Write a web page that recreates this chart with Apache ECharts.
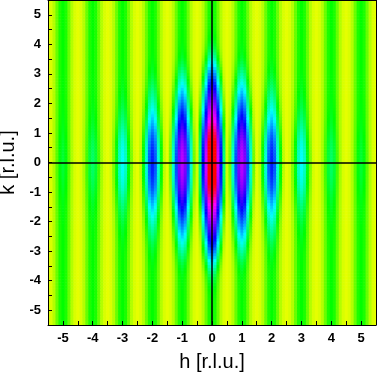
<!DOCTYPE html>
<html>
<head>
<meta charset="utf-8">
<script src="https://cdn.jsdelivr.net/npm/echarts@6/dist/echarts.min.js"></script>
<style>
html,body{margin:0;padding:0;background:#ffffff;}
#chart{width:377px;height:374px;}
</style>
</head>
<body>
<div id="chart"></div>
<script>
// ---- grid of cell centres (h and k, step 0.1 r.l.u.) ----
const hValues = Array.from({length: 111}, (_, i) => +(-5.5 + i * 0.1).toFixed(1));
const kValues = Array.from({length: 111}, (_, i) => +(-5.5 + i * 0.1).toFixed(1));

// background intensity along h, far from k = 0 (one period per r.l.u.)
const hBase = [
  1.2e-4,1.32e-4,1.74e-4,3.0e-4,5.2e-4,6.3e-4,5.2e-4,3.0e-4,1.74e-4,1.32e-4,
  1.2e-4,1.32e-4,1.74e-4,3.0e-4,5.2e-4,6.3e-4,5.2e-4,3.0e-4,1.74e-4,1.32e-4,
  1.2e-4,1.32e-4,1.74e-4,3.0e-4,5.2e-4,6.3e-4,5.2e-4,3.0e-4,1.74e-4,1.32e-4,
  1.2e-4,1.32e-4,1.74e-4,3.0e-4,5.2e-4,6.3e-4,5.2e-4,3.0e-4,1.74e-4,1.32e-4,
  1.2e-4,1.32e-4,1.74e-4,3.0e-4,5.2e-4,6.3e-4,5.2e-4,3.0e-4,1.74e-4,1.32e-4,
  1.2e-4,1.32e-4,1.74e-4,3.0e-4,5.2e-4,6.3e-4,5.2e-4,3.0e-4,1.74e-4,1.32e-4,
  1.2e-4,1.32e-4,1.74e-4,3.0e-4,5.2e-4,6.3e-4,5.2e-4,3.0e-4,1.74e-4,1.32e-4,
  1.2e-4,1.32e-4,1.74e-4,3.0e-4,5.2e-4,6.3e-4,5.2e-4,3.0e-4,1.74e-4,1.32e-4,
  1.2e-4,1.32e-4,1.74e-4,3.0e-4,5.2e-4,6.3e-4,5.2e-4,3.0e-4,1.74e-4,1.32e-4,
  1.2e-4,1.32e-4,1.74e-4,3.0e-4,5.2e-4,6.3e-4,5.2e-4,3.0e-4,1.74e-4,1.32e-4,
  1.2e-4,1.32e-4,1.74e-4,3.0e-4,5.2e-4,6.3e-4,5.2e-4,3.0e-4,1.74e-4,1.32e-4,
  1.2e-4
];

// peak intensity on the k = 0 line along h (peaks at integer h)
const hPeak = [
  0,3.9e-7,7e-6,3.7e-5,1.77e-4,2.8e-4,1.77e-4,3.7e-5,7e-6,3.9e-7,
  0,9.7e-7,1.7e-5,9.1e-5,4.35e-4,6.9e-4,4.35e-4,9.1e-5,1.7e-5,9.7e-7,
  0,4.7e-6,8.4e-5,4.4e-4,2.11e-3,3.35e-3,2.11e-3,4.4e-4,8.4e-5,4.7e-6,
  5e-7,2.9e-5,5.1e-4,2.68e-3,1.28e-2,2.03e-2,1.28e-2,2.68e-3,5.1e-4,2.9e-5,
  2.7e-6,1.54e-4,2.73e-3,1.44e-2,6.88e-2,0.109,6.88e-2,1.44e-2,2.73e-3,1.54e-4,
  2.5e-5,1.41e-3,2.5e-2,0.132,0.631,1.0,0.631,0.132,2.5e-2,1.41e-3,
  2.5e-5,1.54e-4,2.73e-3,1.44e-2,6.88e-2,0.109,6.88e-2,1.44e-2,2.73e-3,1.54e-4,
  2.7e-6,2.9e-5,5.1e-4,2.68e-3,1.28e-2,2.03e-2,1.28e-2,2.68e-3,5.1e-4,2.9e-5,
  5e-7,4.7e-6,8.4e-5,4.4e-4,2.11e-3,3.35e-3,2.11e-3,4.4e-4,8.4e-5,4.7e-6,
  0,9.7e-7,1.7e-5,9.1e-5,4.35e-4,6.9e-4,4.35e-4,9.1e-5,1.7e-5,9.7e-7,
  0,3.9e-7,7e-6,3.7e-5,1.77e-4,2.8e-4,1.77e-4,3.7e-5,7e-6,3.9e-7,
  0
];

// relative peak intensity along k (k = -5.5 ... 5.5)
const kProfile = [
  1.82e-6,2.63e-6,3.80e-6,5.50e-6,7.94e-6,1.15e-5,1.66e-5,2.40e-5,3.47e-5,5.01e-5,
  7.24e-5,1.05e-4,1.51e-4,2.19e-4,3.16e-4,4.57e-4,6.61e-4,9.55e-4,1.38e-3,2.00e-3,
  2.82e-3,3.98e-3,5.50e-3,7.59e-3,1.00e-2,1.32e-2,1.70e-2,2.19e-2,2.75e-2,3.47e-2,
  4.27e-2,5.25e-2,6.31e-2,7.59e-2,9.12e-2,0.110,0.130,0.155,0.182,0.214,
  0.251,0.295,0.343,0.398,0.462,0.531,0.603,0.668,0.733,0.794,
  0.851,0.904,0.944,0.975,0.993,
  1.0,
  0.993,0.975,0.944,0.904,0.851,
  0.794,0.733,0.668,0.603,0.531,0.462,0.398,0.343,0.295,0.251,
  0.214,0.182,0.155,0.130,0.110,9.12e-2,7.59e-2,6.31e-2,5.25e-2,4.27e-2,
  3.47e-2,2.75e-2,2.19e-2,1.70e-2,1.32e-2,1.00e-2,7.59e-3,5.50e-3,3.98e-3,2.82e-3,
  2.00e-3,1.38e-3,9.55e-4,6.61e-4,4.57e-4,3.16e-4,2.19e-4,1.51e-4,1.05e-4,7.24e-5,
  5.01e-5,3.47e-5,2.40e-5,1.66e-5,1.15e-5,7.94e-6,5.50e-6,3.80e-6,2.63e-6,1.82e-6
];

const hTicks = [-5,-4,-3,-2,-1,0,1,2,3,4,5];
const kTicks = [-5,-4,-3,-2,-1,0,1,2,3,4,5];

// ---- build the heatmap table (colour on a log10 intensity scale) ----
const table = [];
for (let j = 0; j < kValues.length; j++) {
  for (let i = 0; i < hValues.length; i++) {
    const intensity = hBase[i] + hPeak[i] * kProfile[j];
    table.push([hValues[i], kValues[j], Math.log10(intensity)]);
  }
}
const halfH = (hValues[1] - hValues[0]) / 2;
const halfK = (kValues[1] - kValues[0]) / 2;

// colour ramp: yellow -> green -> cyan -> blue -> magenta -> red
const rampAnchors = [
  [0.00, [255, 255, 0]],
  [0.20, [0, 255, 0]],
  [0.40, [0, 255, 255]],
  [0.60, [0, 0, 255]],
  [0.82, [255, 0, 255]],
  [0.92, [255, 0, 0]],
  [1.00, [255, 0, 0]]
];
function buildRamp(anchors, n) {
  const out = [];
  for (let s = 0; s < n; s++) {
    const t = s / (n - 1);
    let a = 0;
    while (a < anchors.length - 2 && t > anchors[a + 1][0]) a++;
    const [t0, c0] = anchors[a], [t1, c1] = anchors[a + 1];
    const f = Math.max(0, Math.min(1, (t - t0) / (t1 - t0)));
    const c = c0.map((v, q) => Math.round(v + (c1[q] - v) * f));
    out.push('rgb(' + c.join(',') + ')');
  }
  return out;
}

const FONT = 'Liberation Sans, Arial, Helvetica, sans-serif';
const chart = echarts.init(document.getElementById('chart'), null, {renderer: 'canvas'});

function isTick(list, v) {
  return list.some(t => Math.abs(t - v) < 1e-6);
}

const baseAxis = {
  type: 'value', min: -5.5, max: 5.5, interval: 0.5, z: 10,
  splitLine: {show: false},
  axisLine: {show: true, onZero: false, lineStyle: {color: '#000', width: 1}}
};

chart.setOption({
  animation: false,
  backgroundColor: '#ffffff',
  grid: {left: 48, right: 1, top: 0, bottom: 49, containLabel: false, outerBoundsMode: 'none'},
  visualMap: {
    type: 'continuous', show: false, min: -4, max: 0, dimension: 2, seriesIndex: 0,
    inRange: {color: buildRamp(rampAnchors, 101)}
  },
  xAxis: [
    Object.assign({}, baseAxis, {
      position: 'bottom',
      axisTick: {show: true, inside: true, length: 4, lineStyle: {color: '#000'}},
      axisLabel: {color: '#000', fontSize: 13, fontWeight: 'bold', fontFamily: FONT, margin: 7,
        showMinLabel: true, showMaxLabel: true, hideOverlap: false,
        formatter: v => isTick(hTicks, v) ? String(Math.round(v)) : ''},
      name: 'h [r.l.u.]', nameLocation: 'middle', nameGap: 27,
      nameTextStyle: {color: '#000', fontSize: 20, fontFamily: FONT}
    }),
    Object.assign({}, baseAxis, {
      position: 'top', axisTick: {show: false}, axisLabel: {show: false}
    })
  ],
  yAxis: [
    Object.assign({}, baseAxis, {
      position: 'left',
      axisTick: {show: true, inside: true, length: 4, lineStyle: {color: '#000'}},
      axisLabel: {color: '#000', fontSize: 13, fontWeight: 'bold', fontFamily: FONT, margin: 7,
        showMinLabel: true, showMaxLabel: true, hideOverlap: false,
        formatter: v => isTick(kTicks, v) ? String(Math.round(v)) : ''},
      name: 'k [r.l.u.]', nameLocation: 'middle', nameGap: 29, nameRotate: 90,
      nameTextStyle: {color: '#000', fontSize: 20, fontFamily: FONT}
    }),
    Object.assign({}, baseAxis, {
      position: 'right', axisTick: {show: false}, axisLabel: {show: false}
    })
  ],
  series: [{
    type: 'custom',
    xAxisIndex: 0, yAxisIndex: 0,
    clip: true,
    progressive: 0,
    data: table,
    encode: {x: 0, y: 1},
    renderItem: function (params, api) {
      const h = api.value(0), k = api.value(1);
      const a = api.coord([h - halfH, k + halfK]);
      const b = api.coord([h + halfH, k - halfK]);
      return {
        type: 'rect',
        shape: {x: a[0], y: a[1], width: b[0] - a[0] + 0.6, height: b[1] - a[1] + 0.6},
        style: {fill: api.visual('color')}
      };
    },
    markLine: {
      silent: true, animation: false,
      symbol: ['none', 'none'],
      label: {show: false},
      lineStyle: {color: '#000', width: 1.5, type: 'solid'},
      data: [{xAxis: 0}, {yAxis: 0}]
    }
  }]
});
</script>
</body>
</html>
